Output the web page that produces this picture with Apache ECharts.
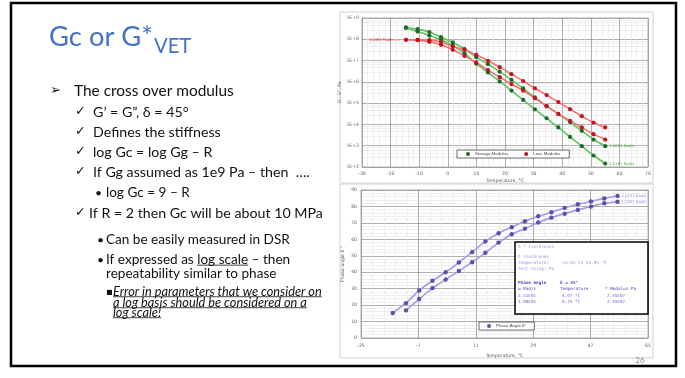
<!DOCTYPE html>
<html><head><meta charset="utf-8">
<script src="https://cdn.jsdelivr.net/npm/echarts@6/dist/echarts.min.js"></script>
<style>html,body{margin:0;padding:0;background:#fff}#c{width:685px;height:378px}</style>
</head><body><div id="c"></div>
<script>
// ---------- data ----------
const temps = [-14.65,-10.55,-6.45,-2.35,1.75,5.85,9.95,14.05,18.15,22.25,26.35,30.45,34.55,38.65,42.75,46.85,50.95,55.05];
const storageHi = [3.6e8,3.0e8,2.2e8,1.26e8,7.1e7,3.5e7,1.45e7,6.8e6,3.0e6,1.23e6,4.9e5,1.86e5,7.2e4,3.1e4,1.29e4,5.0e3,1.95e3,955];
const storageLo = [3.4e8,2.3e8,1.5e8,9.5e7,5.1e7,2.2e7,7.1e6,2.75e6,1.05e6,3.9e5,1.41e5,5.1e4,1.95e4,7.2e3,2.6e3,955,347,145];
const lossHi = [9.5e7,9.5e7,9.1e7,7.4e7,4.6e7,3.2e7,1.86e7,9.8e6,4.9e6,2.3e6,1.1e6,5.0e5,2.4e5,1.12e5,5.2e4,2.45e4,1.23e4,7.2e3];
const lossLo = [9.5e7,9.1e7,7.6e7,5.5e7,3.2e7,1.66e7,8.1e6,3.6e6,1.66e6,7.9e5,3.9e5,1.7e5,7.2e4,3.1e4,1.48e4,7.2e3,3.5e3,1.95e3];
const phaseHi = [15.2,21.2,28.9,34.8,40.0,45.9,52.2,58.7,63.7,67.4,71.0,74.0,76.5,79.1,81.3,83.1,84.9,86.4];
const phaseLo = [null,16.8,23.7,30.3,35.6,40.7,46.1,51.8,58.0,63.1,66.5,70.2,73.2,75.6,77.9,79.9,81.9,82.9];
const topYLabels = ['1E+2','1E+3','1E+4','1E+5','1E+6','1E+7','1E+8','1E+9'];
const botXLabels = ['-25','-7','11','29','47','65'];
const freqLabels = ['1.00E1 Rad/s','2.51E1 Rad/s'];
const crossFreq = ['2.51E01','1.00E01'];
const crossTemp = ['4.07 °C','0.75 °C'];
const crossMod = ['2.45E07','2.45E07'];

// ---------- text helpers ----------
const ctx = document.createElement('canvas').getContext('2d');
const FAM = 'Lato';
function measure(s, size, style, weight, fam) {
  ctx.font = (style||'normal') + ' ' + (weight||'normal') + ' ' + size + 'px ' + (fam||FAM);
  return ctx.measureText(s).width;
}
function fit(s, target, style, weight) { return 20 * target / measure(s, 20, style, weight); }

const els = [];
function T(x, y, s, size, o) {
  o = o || {};
  els.push({type:'text', x:x, y:y, z:5, style:{text:s, fontSize:size, fontFamily:o.fam||FAM,
    fontStyle:o.style||'normal', fontWeight:o.weight||'normal', fill:o.fill||'#111',
    align:o.align||'left', verticalAlign:'middle'}});
}
function U(x, y, w) {
  els.push({type:'line', z:5, shape:{x1:x, y1:y, x2:x+w, y2:y}, style:{stroke:'#111', lineWidth:0.8}});
}

const sTitle = fit('Gc or G*', 104);
const s1 = fit('The cross over modulus', 160);
const s2 = fit('If R = 2 then Gc will be about 10 MPa', 234);
const s3 = fit('Can be easily measured in DSR', 184);
const s4 = fit('Error in parameters that we consider on', 209, 'italic');

// frame and picture backgrounds
els.push({type:'rect', z:-10, shape:{x:11, y:3, width:665, height:363}, style:{fill:'#fff', stroke:'#000', lineWidth:2.5}});
els.push({type:'rect', z:-9, shape:{x:340, y:12, width:313, height:171}, style:{fill:'#fff', stroke:'#d0d0d0', lineWidth:1}});
els.push({type:'rect', z:-9, shape:{x:340, y:184, width:313, height:174}, style:{fill:'#fff', stroke:'#d0d0d0', lineWidth:1}});

// title
T(49, 37, 'Gc or G*', sTitle, {fill:'#4472C4'});
T(49 + measure('Gc or G*', sTitle) + 1, 46, 'VET', sTitle * 0.74, {fill:'#4472C4'});

// bullets
T(50, 91, '➢', s1 * 0.85, {fam:'DejaVu Sans'});
T(74, 91, 'The cross over modulus', s1);
const checks = [[112, "G’ = G”, δ = 45°"], [132, 'Defines the stiffness'], [152, 'log Gc = log Gg – R'], [172, 'If Gg assumed as 1e9 Pa – then  ….'], [213, 'If R = 2 then Gc will be about 10 MPa']];
checks.forEach(c => { T(75, c[0], '✓', s2 * 0.9, {fam:'DejaVu Sans'}); T(c[1].startsWith('If R') ? 89 : 93, c[0], c[1], s2); });
T(95, 193, '•', s3 * 0.9); T(106, 193, 'log Gc = 9 – R', s3);
T(97, 240, '•', s3 * 0.9); T(106, 240, 'Can be easily measured in DSR', s3);
T(97, 260, '•', s3 * 0.9); T(106, 260, 'If expressed as log scale – then', s3);
U(106 + measure('If expressed as ', s3), 260 + s3 * 0.38, measure('log scale', s3));
T(106, 274, 'repeatability similar to phase', s3);
T(106, 292, '▪', s4 * 0.8, {fam:'DejaVu Sans'});
[[292, 'Error in parameters that we consider on'], [303, 'a log basis should be considered on a'], [313, 'log scale!']].forEach(l => {
  T(113, l[0], l[1], s4, {style:'italic'});
  U(113, l[0] + s4 * 0.37, measure(l[1], s4, 'italic'));
});
T(640, 360, '26', 8, {fill:'#8a8a8a', align:'center'});

// inset box
els.push({type:'rect', z:50, shape:{x:515, y:242, width:133, height:72}, style:{fill:'#fff', stroke:'#000', lineWidth:1.5}});
const MF = 'DejaVu Sans Mono';
function I(x, y, s, fill, w) {
  els.push({type:'text', x:x, y:y, z:51, style:{text:s, fontSize:4.3, fontFamily:MF, fontWeight:w||'normal', fill:fill, align:'left', verticalAlign:'middle'}});
}
I(518, 247, 'δ * Isochrones', '#9a96dc');
I(518, 257, 'δ Isochrones', '#9a96dc');
I(518, 263, 'Temperature:', '#9a96dc'); I(560, 263, '-14.65 to 55.05 °C', '#9a96dc');
I(518, 269, 'Test Using: Pa', '#9a96dc');
I(518, 283, 'Phase Angle', '#4a46c0', 'bold'); I(560, 283, 'δ = 45°', '#4a46c0', 'bold');
I(518, 289, 'ω Rad/s', '#4a46c0'); I(560, 289, 'Temperature', '#4a46c0'); I(605, 289, '* Modulus Pa', '#4a46c0');
crossFreq.forEach((f, i) => {
  const y = 296 + i * 6;
  I(518, y, f, '#6a66cc'); I(562, y, crossTemp[i], '#6a66cc'); I(607, y, crossMod[i], '#6a66cc');
});

// ---------- chart ----------
const green = '#62c462', greenDot = '#1d6b28', red = '#f07070', redDot = '#c4121e', purple = '#a49be6', purpleDot = '#5b4fb0';
function pts(arr) { const d = []; arr.forEach((v, i) => { if (v != null) d.push([temps[i], v]); }); return d; }
function line(name, data, xi, yi, lc, dc, endText, endColor, sz) {
  return {type:'line', name:name, data:data, xAxisIndex:xi, yAxisIndex:yi, symbol:'circle', symbolSize:sz||4.2,
    smooth:0.25, itemStyle:{color:dc}, lineStyle:{color:lc, width:1.6}, z:3,
    endLabel: endText ? {show:true, formatter:endText, color:endColor, fontSize:3.8, distance:4, fontFamily:'DejaVu Sans'} : {show:false},
    emphasis:{disabled:true}};
}
const lossHiData = pts(lossHi);
lossHiData[0] = {value:lossHiData[0], label:{show:true, position:'left', distance:4, formatter:freqLabels[1] + ' - - -', color:'#e03030', fontSize:3.8}};

const labelStyle = {fontSize:4.6, color:'#666', fontFamily:'DejaVu Sans'};
const nameStyle = {fontSize:4.6, color:'#555', fontFamily:'DejaVu Sans'};
const major = {show:true, lineStyle:{color:'#8c8c8c', width:0.7}};
const minor = {show:true, lineStyle:{color:'#e4e4e4', width:0.6}};

const option = {
  animation:false,
  backgroundColor:'#fff',
  graphic:{elements:els},
  grid:[
    {left:362, top:18, width:286, height:149, show:true, borderColor:'#999', borderWidth:0.8, backgroundColor:'transparent'},
    {left:361, top:190, width:287, height:148, show:true, borderColor:'#999', borderWidth:0.8, backgroundColor:'transparent'}
  ],
  legend:[
    {data:['Storage Modulus','Loss Modulus'], left:457, top:150, icon:'circle', itemWidth:4, itemHeight:4, itemGap:16,
     padding:[2,9], borderColor:'#444', borderWidth:0.8, backgroundColor:'#fff', textStyle:{fontSize:4.4, color:'#444'}, selectedMode:false, z:20},
    {data:['Phase Angle δ°'], left:479, top:322, icon:'circle', itemWidth:4, itemHeight:4,
     padding:[2,8], borderColor:'#444', borderWidth:0.8, backgroundColor:'#fff', textStyle:{fontSize:4.4, color:'#444'}, selectedMode:false, z:20}
  ],
  xAxis:[
    {gridIndex:0, type:'value', min:-30, max:70, interval:10, axisLine:{show:false}, axisTick:{show:false},
     axisLabel:Object.assign({margin:4}, labelStyle), splitLine:major, minorTick:{show:false, splitNumber:5}, minorSplitLine:minor,
     name:'Temperature, °C', nameLocation:'middle', nameGap:11, nameTextStyle:nameStyle},
    {gridIndex:1, type:'value', min:-24.5, max:64.5, show:false},
    {gridIndex:1, type:'value', min:0, max:5, interval:1, position:'bottom', axisLine:{show:false}, axisTick:{show:false},
     axisLabel:Object.assign({margin:5, formatter:(v, i) => botXLabels[Math.round(v)]}, labelStyle), splitLine:major,
     minorTick:{show:false, splitNumber:5}, minorSplitLine:minor,
     name:'Temperature, °C', nameLocation:'middle', nameGap:15, nameTextStyle:nameStyle}
  ],
  yAxis:[
    {gridIndex:0, type:'log', logBase:10, min:1e2, max:1e9, splitNumber:7, axisLine:{show:false}, axisTick:{show:false},
     axisLabel:Object.assign({margin:3, formatter:(v) => topYLabels[Math.round(Math.log10(v)) - 2]}, labelStyle), splitLine:major,
     minorTick:{show:false, splitNumber:5}, minorSplitLine:minor,
     name:'G’, G”, Pa', nameLocation:'middle', nameGap:15, nameTextStyle:nameStyle},
    {gridIndex:1, type:'value', min:0, max:90, interval:10, axisLine:{show:false}, axisTick:{show:false},
     axisLabel:Object.assign({margin:4}, labelStyle), splitLine:major, minorTick:{show:false, splitNumber:5}, minorSplitLine:minor,
     name:'Phase angle δ °', nameLocation:'middle', nameGap:16, nameTextStyle:nameStyle}
  ],
  series:[
    line('Storage Modulus', pts(storageHi), 0, 0, green, greenDot, freqLabels[0], '#4cae4c'),
    line('Storage Modulus', pts(storageLo), 0, 0, green, greenDot, freqLabels[1], '#4cae4c'),
    line('Loss Modulus', lossHiData, 0, 0, red, redDot, null, null),
    line('Loss Modulus', pts(lossLo), 0, 0, red, redDot, null, null),
    line('Phase Angle δ°', pts(phaseHi), 1, 1, purple, purpleDot, freqLabels[1], '#a49be6', 4.4),
    line('Phase Angle δ°', pts(phaseLo), 1, 1, purple, purpleDot, freqLabels[0], '#a49be6', 4.4)
  ]
};
const chart = echarts.init(document.getElementById('c'), null, {renderer:'canvas'});
chart.setOption(option);
</script></body></html>
